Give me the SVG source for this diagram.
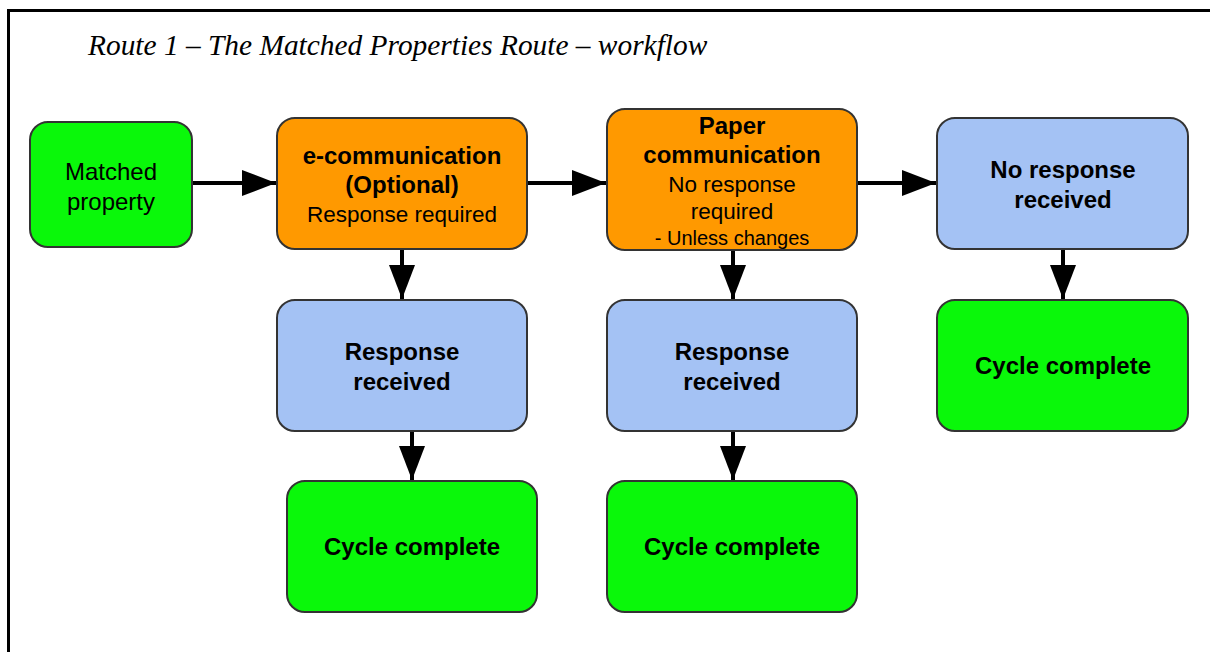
<svg xmlns="http://www.w3.org/2000/svg" width="1210" height="652" viewBox="0 0 1210 652">
<defs>
<style>
.box{stroke:#333;stroke-width:2}
.g{fill:#0af80a}
.o{fill:#ff9900}
.b{fill:#a4c2f4}
text{font-family:"Liberation Sans",Arial,sans-serif;fill:#000;text-anchor:middle}
.bd{font-weight:bold;font-size:24px}
.rg{font-size:22.5px}
.mp{font-size:24px}
.sm{font-size:20px}
.title{font-family:"Liberation Serif","Times New Roman",serif;font-style:italic;font-size:29.4px;text-anchor:start}
.ln{stroke:#000;stroke-width:4;fill:none}
</style>
<marker id="ah" viewBox="0 0 10 10" refX="10" refY="5" markerWidth="8.5" markerHeight="6.5" markerUnits="strokeWidth" orient="auto" preserveAspectRatio="none">
<path d="M0,0 L10,5 L0,10 Z" fill="#000"/>
</marker>
</defs>
<rect width="1210" height="652" fill="#fff"/>
<g id="frame">
<line x1="7" y1="10.5" x2="1210" y2="10.5" stroke="#000" stroke-width="3"/>
<line x1="8.5" y1="9" x2="8.5" y2="652" stroke="#000" stroke-width="3"/>
</g>
<text class="title" x="88" y="55">Route 1 – The Matched Properties Route – workflow</text>
<g id="connectors">
<line class="ln" x1="193" y1="183" x2="276" y2="183" marker-end="url(#ah)"/>
<line class="ln" x1="528" y1="183" x2="606" y2="183" marker-end="url(#ah)"/>
<line class="ln" x1="858" y1="183" x2="936" y2="183" marker-end="url(#ah)"/>
<line class="ln" x1="402" y1="250" x2="402" y2="299" marker-end="url(#ah)"/>
<line class="ln" x1="733" y1="251" x2="733" y2="299" marker-end="url(#ah)"/>
<line class="ln" x1="1063" y1="250" x2="1063" y2="299" marker-end="url(#ah)"/>
<line class="ln" x1="412" y1="431" x2="412" y2="480" marker-end="url(#ah)"/>
<line class="ln" x1="733" y1="431" x2="733" y2="480" marker-end="url(#ah)"/>
</g>
<g id="matched">
<rect class="box g" x="30" y="122" width="162" height="125" rx="18"/>
<text class="mp" x="111" y="180">Matched</text>
<text class="mp" x="111" y="210">property</text>
</g>
<g id="ecomm">
<rect class="box o" x="277" y="118" width="250" height="131" rx="18"/>
<text class="bd" x="402" y="164">e-communication</text>
<text class="bd" x="402" y="193">(Optional)</text>
<text class="rg" x="402" y="222">Response required</text>
</g>
<g id="paper">
<rect class="box o" x="607" y="109" width="250" height="141" rx="18"/>
<text class="bd" x="732" y="134">Paper</text>
<text class="bd" x="732" y="163">communication</text>
<text class="rg" x="732" y="192">No response</text>
<text class="rg" x="732" y="219">required</text>
<text class="sm" x="732" y="245">- Unless changes</text>
</g>
<g id="noresp">
<rect class="box b" x="937" y="118" width="251" height="131" rx="18"/>
<text class="bd" x="1063" y="178">No response</text>
<text class="bd" x="1063" y="208">received</text>
</g>
<g id="resp1">
<rect class="box b" x="277" y="300" width="250" height="131" rx="18"/>
<text class="bd" x="402" y="360">Response</text>
<text class="bd" x="402" y="390">received</text>
</g>
<g id="resp2">
<rect class="box b" x="607" y="300" width="250" height="131" rx="18"/>
<text class="bd" x="732" y="360">Response</text>
<text class="bd" x="732" y="390">received</text>
</g>
<g id="cycle3">
<rect class="box g" x="937" y="300" width="251" height="131" rx="18"/>
<text class="bd" x="1063" y="374">Cycle complete</text>
</g>
<g id="cycle1">
<rect class="box g" x="287" y="481" width="250" height="131" rx="18"/>
<text class="bd" x="412" y="555">Cycle complete</text>
</g>
<g id="cycle2">
<rect class="box g" x="607" y="481" width="250" height="131" rx="18"/>
<text class="bd" x="732" y="555">Cycle complete</text>
</g>
</svg>
